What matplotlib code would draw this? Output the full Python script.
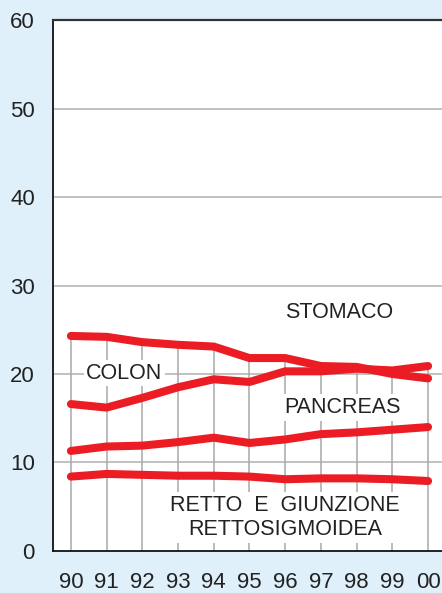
import matplotlib.pyplot as plt
import numpy as np

plt.rcParams['font.family'] = ['Liberation Sans', 'DejaVu Sans']

# data
years = ["90", "91", "92", "93", "94", "95", "96", "97", "98", "99", "00"]
stomaco = [24.3, 24.2, 23.6, 23.3, 23.1, 21.8, 21.8, 20.9, 20.8, 20.0, 19.5]
colon = [16.6, 16.2, 17.3, 18.5, 19.4, 19.1, 20.3, 20.3, 20.6, 20.4, 20.9]
pancreas = [11.3, 11.8, 11.9, 12.3, 12.8, 12.2, 12.6, 13.2, 13.4, 13.7, 14.0]
retto = [8.4, 8.7, 8.6, 8.5, 8.5, 8.4, 8.1, 8.2, 8.2, 8.1, 7.9]
yticks = [0, 10, 20, 30, 40, 50, 60]

bg = '#dff0fa'
red = '#ec1c24'
x = np.arange(len(years))

fig = plt.figure(figsize=(4.42, 5.93), dpi=100, facecolor=bg)
ax = fig.add_axes([0.12, 0.071, 0.88, 0.895])
ax.set_facecolor('white')

# grid
for v in yticks[1:-1]:
    ax.axhline(v, color='#b0b0b0', lw=1.1, zorder=1)
top = np.maximum.reduce([stomaco, colon, pancreas, retto])
ax.vlines(x, 0, top, color='#a8a8a8', lw=1.1, zorder=1)

for s in [stomaco, colon, pancreas, retto]:
    ax.plot(x, s, color=red, lw=5.8, solid_capstyle='round',
            solid_joinstyle='round', zorder=3)

box = dict(facecolor='white', edgecolor='none', pad=2)
fs = 15.5
ax.text(7.5, 26.9, "STOMACO", fontsize=fs, ha='center', va='center', color='#222222')
ax.text(1.5, 20.1, "COLON", fontsize=fs, ha='center', va='center', color='#222222', bbox=box, zorder=2)
ax.text(7.6, 16.2, "PANCREAS", fontsize=fs, ha='center', va='center', color='#222222', bbox=box, zorder=2)
ax.text(6.0, 3.8, "RETTO  E  GIUNZIONE\nRETTOSIGMOIDEA", fontsize=fs, ha='center',
        va='center', color='#222222', linespacing=1.2, bbox=box, zorder=2)

ax.set_xlim(-0.5, 10.39)
ax.set_ylim(0, 60)
ax.set_xticks(x)
ax.set_xticklabels(years)
ax.set_yticks(yticks)
ax.tick_params(length=0, labelsize=16, colors='#222222')
ax.tick_params(axis='x', pad=15)
ax.tick_params(axis='y', pad=13)

ax.spines['right'].set_visible(False)
ax.spines['top'].set_color('#333333')
ax.spines['top'].set_linewidth(1.6)
ax.spines['left'].set_color('#111111')
ax.spines['left'].set_linewidth(1.3)
ax.spines['bottom'].set_color('#111111')
ax.spines['bottom'].set_linewidth(1.3)

fig.savefig('out.png', facecolor=bg)
